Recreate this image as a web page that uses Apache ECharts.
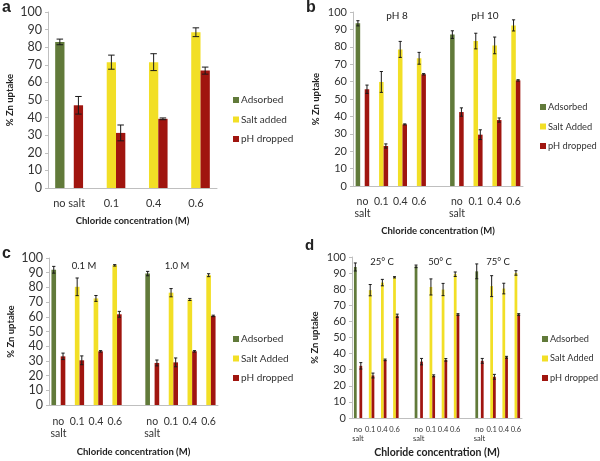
<!DOCTYPE html>
<html><head><meta charset="utf-8">
<script src="https://cdn.jsdelivr.net/npm/echarts@6/dist/echarts.min.js"></script>
<style>html,body{margin:0;padding:0;background:#fff}#c{width:600px;height:461px}</style>
</head><body><div id="c"></div>
<script>
const n = null;
// Panel a
const catsA = ['no salt','0.1','0.4','0.6'];
const adsA = [83, n, n, n];
const adsErrA = [1.6, n, n, n];
const saltA = [n, 71.5, 71.5, 88.5];
const saltErrA = [n, 4, 4.8, 2.5];
const phA = [47, 31.3, 39.3, 66.7];
const phErrA = [5, 4.5, 0.5, 2];
// Panel b
const catsB = ['no\nsalt','0.1','0.4','0.6','','no\nsalt','0.1','0.4','0.6'];
const adsB = [93.5, n, n, n, n, 87, n, n, n];
const adsErrB = [1.5, n, n, n, n, 2.2, n, n, n];
const saltB = [n, 59.8, 78.5, 73.4, n, n, 83.3, 80.8, 92.3];
const saltErrB = [n, 6, 4.6, 3.4, n, n, 4.5, 4.8, 3.2];
const phB = [55.6, 23, 35.4, 64.2, n, 42.5, 29.5, 37.9, 60.7];
const phErrB = [2.4, 1.2, 0.3, 0.4, n, 2.4, 2.8, 1.2, 0.4];
const groupLabelsB = ['pH 8', 'pH 10'];
// Panel c
const catsC = ['no\nsalt','0.1','0.4','0.6','','no\nsalt','0.1','0.4','0.6'];
const adsC = [92, n, n, n, n, 89.4, n, n, n];
const adsErrC = [2.3, n, n, n, n, 1.5, n, n, n];
const saltC = [n, 80.4, 72.5, 95, n, n, 76.4, 71.8, 88.3];
const saltErrC = [n, 6, 2, 0.5, n, n, 2.8, 0.7, 1];
const phC = [33.1, 30.4, 36.5, 61.7, n, 28.6, 29, 36.5, 60.6];
const phErrC = [2.2, 3, 0.5, 2, n, 2, 3, 0.5, 0.5];
const groupLabelsC = ['0.1 M', '1.0 M'];
// Panel d
const catsD = ['no\nsalt','0.1','0.4','0.6','','no\nsalt','0.1','0.4','0.6','','no\nsalt','0.1','0.4','0.6'];
const adsD = [93.8, n, n, n, n, 94.2, n, n, n, n, 91.1, n, n, n];
const adsErrD = [2.5, n, n, n, n, 0.8, n, n, n, n, 4.6, n, n, n];
const saltD = [n, 79.4, 84.1, 87.4, n, n, 81.4, 79.8, 89.3, n, n, 81.9, 80.4, 90.1];
const saltErrD = [n, 3.5, 2, 0.4, n, n, 5, 3.8, 1.4, n, n, 6.5, 3.3, 1.4];
const phD = [32.4, 26.4, 36.1, 63.5, n, 35, 26.2, 36.1, 64.3, n, 35.5, 25.6, 37.7, 64.3];
const phErrD = [2, 1.5, 0.5, 1, n, 2, 0.6, 0.8, 0.5, n, 1.5, 1.5, 0.6, 0.5];
const groupLabelsD = ['25° C', '50° C', '75° C'];

const yTicks = [0, 100, 10]; // min, max, interval
const panelLetters = ['a', 'b', 'c', 'd'];
const yTitle = '% Zn uptake';
const xTitle = 'Chloride concentration (M)';

const GREEN = '#617a3a', YELLOW = '#f2df26', RED = '#a0150f';
const FONT = 'Lato, "Open Sans", sans-serif';

const panels = [
  {cats: catsA, ads: adsA, adsErr: adsErrA, salt: saltA, saltErr: saltErrA, ph: phA, phErr: phErrA, saltName: 'Salt added',
   grid: {left: 48, top: 12, width: 169, height: 176}, gap: 0.34, yFont: 12.5, xFont: 11, xMargin: 9, xNameGap: 28, yNameGap: 33, titleFont: 9.5,
   legend: {left: 233, top: 94, font: 10}},
  {cats: catsB, ads: adsB, adsErr: adsErrB, salt: saltB, saltErr: saltErrB, ph: phB, phErr: phErrB, saltName: 'Salt Added',
   grid: {left: 353, top: 12, width: 170, height: 174}, gap: 0.28, yFont: 11, xFont: 10.5, xMargin: 9, xNameGap: 40, yNameGap: 32, titleFont: 9.5,
   legend: {left: 540, top: 101, font: 9.3}},
  {cats: catsC, ads: adsC, adsErr: adsErrC, salt: saltC, saltErr: saltErrC, ph: phC, phErr: phErrC, saltName: 'Salt Added',
   grid: {left: 49, top: 258, width: 169, height: 147}, gap: 0.26, yFont: 12.5, xFont: 10.5, xMargin: 10, xNameGap: 42, yNameGap: 33, titleFont: 9.5,
   legend: {left: 233, top: 333, font: 10}},
  {cats: catsD, ads: adsD, adsErr: adsErrD, salt: saltD, saltErr: saltErrD, ph: phD, phErr: phErrD, saltName: 'Salt Added',
   grid: {left: 352, top: 257, width: 170, height: 161}, gap: 0.32, yFont: 11, xFont: 7.5, xMargin: 7, xNameGap: 29, yNameGap: 32, titleFont: 10.5,
   legend: {left: 542, top: 333, font: 9.2}}
];

function errRender(slot, gap) {
  return function (params, api) {
    const i = api.value(0), v = api.value(1), e = api.value(2);
    const band = api.size([1, 0])[0];
    const bw = band * (1 - gap) / 3;
    const p = api.coord([i, v]);
    const x = p[0] + (slot - 1) * bw;
    const hi = api.coord([i, v + e])[1];
    const lo = api.coord([i, v - e])[1];
    const cw = Math.max(3, bw * 0.7) / 2;
    const st = {stroke: '#1a1a1a', lineWidth: 1};
    return {type: 'group', children: [
      {type: 'line', shape: {x1: x, y1: hi, x2: x, y2: lo}, style: st},
      {type: 'line', shape: {x1: x - cw, y1: hi, x2: x + cw, y2: hi}, style: st},
      {type: 'line', shape: {x1: x - cw, y1: lo, x2: x + cw, y2: lo}, style: st}
    ]};
  };
}
function errData(vals, errs) {
  const out = [];
  vals.forEach((v, i) => { if (v != null) out.push([i, v, errs[i]]); });
  return out;
}

const grids = [], xAxes = [], yAxes = [], series = [], legends = [];
panels.forEach((p, k) => {
  grids.push(p.grid);
  xAxes.push({type: 'category', gridIndex: k, data: p.cats,
    axisLine: {lineStyle: {color: '#bfbfbf'}},
    axisTick: {length: 4, lineStyle: {color: '#bfbfbf'}, interval: 0},
    axisLabel: {interval: 0, hideOverlap: false, fontFamily: FONT, fontSize: p.xFont, color: '#333', margin: p.xMargin, lineHeight: p.xFont * 1.2},
    name: xTitle, nameLocation: 'middle', nameGap: p.xNameGap,
    nameTextStyle: {fontFamily: FONT, fontWeight: 'bold', fontSize: p.titleFont, color: '#222'}
  });
  yAxes.push({type: 'value', gridIndex: k, min: yTicks[0], max: yTicks[1], interval: yTicks[2],
    axisLine: {show: true, lineStyle: {color: '#bfbfbf'}},
    axisTick: {show: true, length: 3, lineStyle: {color: '#bfbfbf'}},
    splitLine: {show: false},
    axisLabel: {fontFamily: FONT, fontSize: p.yFont, color: '#333', margin: 6},
    name: yTitle, nameLocation: 'middle', nameRotate: 90, nameGap: p.yNameGap,
    nameTextStyle: {fontFamily: FONT, fontWeight: 'bold', fontSize: 9.5, color: '#222'}
  });
  const cg = Math.round(p.gap * 100) + '%';
  const mk = (name, data, color) => ({type: 'bar', name: name, xAxisIndex: k, yAxisIndex: k, data: data,
    itemStyle: {color: color}, barGap: '0%', barCategoryGap: cg, animation: false});
  series.push(mk('Adsorbed', p.ads, GREEN));
  series.push(mk(p.saltName, p.salt, YELLOW));
  series.push(mk('pH dropped', p.ph, RED));
  [[p.ads, p.adsErr, 0], [p.salt, p.saltErr, 1], [p.ph, p.phErr, 2]].forEach(([v, e, s]) => {
    series.push({type: 'custom', name: 'err' + k + s, xAxisIndex: k, yAxisIndex: k, z: 5,
      data: errData(v, e), renderItem: errRender(s, p.gap), animation: false,
      encode: {x: 0, y: 1}});
  });
  legends.push({orient: 'vertical', left: p.legend.left, top: p.legend.top, padding: 0, itemWidth: 6, itemHeight: 6,
    itemGap: 7.5, icon: 'rect', selectedMode: false, data: ['Adsorbed', p.saltName, 'pH dropped'],
    textStyle: {fontFamily: FONT, fontSize: p.legend.font, color: '#333', lineHeight: 12, padding: [0, 0, 0, -3]}});
});

const txt = (x, y, t, size, weight, align) => ({type: 'text', x: x, y: y,
  style: {text: t, fontFamily: weight === 'bold' && size > 12 ? '"Liberation Sans", Arial, sans-serif' : FONT,
    fontSize: size, fontWeight: weight || 'normal', fill: '#222', align: align || 'center', verticalAlign: 'middle'}});

const graphics = [
  txt(2, 8, panelLetters[0], 16, 'bold', 'left'),
  txt(306, 8, panelLetters[1], 16, 'bold', 'left'),
  txt(2, 254, panelLetters[2], 16, 'bold', 'left'),
  txt(305, 246, panelLetters[3], 15, 'bold', 'left'),
  txt(397, 16, groupLabelsB[0], 10),
  txt(485, 16, groupLabelsB[1], 10),
  txt(84, 266, groupLabelsC[0], 9.5),
  txt(177, 266, groupLabelsC[1], 9.5),
  txt(382, 262, groupLabelsD[0], 9.5),
  txt(440, 262, groupLabelsD[1], 9.5),
  txt(498, 262, groupLabelsD[2], 9.5)
];

const chart = echarts.init(document.getElementById('c'), null, {renderer: 'canvas'});
chart.setOption({animation: false, backgroundColor: '#fff', grid: grids, xAxis: xAxes, yAxis: yAxes,
  series: series, legend: legends, graphic: graphics});
</script></body></html>
